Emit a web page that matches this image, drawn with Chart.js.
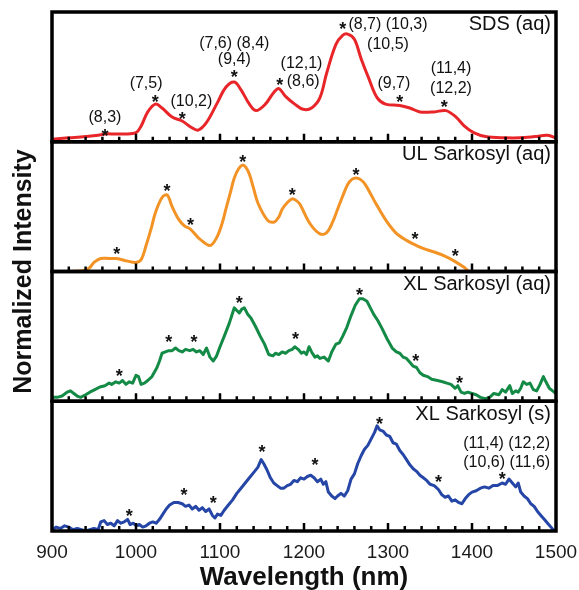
<!DOCTYPE html>
<html>
<head>
<meta charset="utf-8">
<script src="https://cdn.jsdelivr.net/npm/chart.js@4/dist/chart.umd.min.js"></script>
<style>
  html, body { margin: 0; padding: 0; background: #fff; }
  #wrap { width: 579px; height: 590px; }
</style>
</head>
<body>
<div id="wrap"><canvas id="chart"></canvas></div>
<script>
'use strict';

// --- DATA (wavelength in nm, intensity normalized to panel height) ---
const sdsWl = [900,920,940,955,963,975,986,1000,1006,1014,1023,1031,1043,1055,1066,1074,1084,1096,1107,1117,1125,1135,1143,1154,1164,1170,1178,1189,1199,1209,1219,1227,1238,1246,1252,1260,1268,1277,1287,1297,1314,1326,1338,1355,1369,1381,1391,1402,1416,1440,1457,1475,1490,1500];
const sdsVal = [0.02,0.03,0.04,0.05,0.06,0.06,0.06,0.07,0.12,0.23,0.29,0.26,0.19,0.16,0.11,0.09,0.15,0.29,0.42,0.46,0.40,0.29,0.24,0.29,0.38,0.41,0.35,0.29,0.25,0.26,0.34,0.53,0.75,0.82,0.83,0.79,0.64,0.49,0.34,0.29,0.28,0.26,0.23,0.23,0.24,0.19,0.12,0.07,0.04,0.03,0.03,0.04,0.05,0.03];

const ulWl = [900,920,940,945,950,958,968,977,990,1000,1006,1012,1018,1023,1031,1037,1043,1051,1058,1064,1070,1076,1088,1096,1102,1107,1112,1117,1122,1127,1131,1135,1140,1145,1156,1164,1170,1174,1180,1186,1190,1195,1207,1219,1227,1234,1240,1246,1252,1257,1262,1267,1273,1285,1297,1309,1322,1334,1345,1355,1367,1379,1391,1397,1420,1450,1480,1500];
const ulVal = [0,0,0.01,0.03,0.07,0.10,0.10,0.10,0.08,0.07,0.09,0.20,0.33,0.45,0.57,0.59,0.50,0.40,0.35,0.33,0.29,0.25,0.20,0.26,0.36,0.48,0.60,0.72,0.79,0.82,0.80,0.75,0.64,0.53,0.40,0.38,0.42,0.48,0.53,0.56,0.55,0.52,0.37,0.29,0.30,0.38,0.48,0.58,0.67,0.71,0.72,0.71,0.67,0.53,0.40,0.30,0.24,0.20,0.17,0.15,0.12,0.08,0.03,0,0,0,0,0];

const xlAqWl = [900,906,912,918,922,926,930,934,940,945,951,957,963,968,971,976,980,984,988,992,996,1000,1003,1006,1010,1014,1019,1025,1028,1031,1035,1039,1043,1047,1051,1055,1059,1064,1068,1072,1076,1080,1084,1088,1092,1096,1100,1105,1111,1115,1117,1120,1123,1126,1129,1133,1137,1142,1148,1153,1158,1163,1166,1170,1174,1178,1182,1186,1189,1193,1197,1200,1203,1206,1209,1213,1216,1219,1224,1229,1233,1238,1242,1246,1251,1256,1261,1266,1270,1275,1279,1283,1288,1293,1299,1305,1310,1314,1318,1322,1326,1330,1334,1338,1342,1347,1352,1359,1365,1370,1375,1380,1383,1387,1391,1395,1400,1405,1410,1416,1421,1426,1432,1436,1440,1445,1448,1452,1455,1458,1461,1465,1469,1473,1477,1481,1485,1488,1492,1496,1500];
const xlAqVal = [0.03,0.03,0.04,0.07,0.08,0.06,0.04,0.03,0.05,0.07,0.09,0.11,0.12,0.14,0.13,0.15,0.14,0.16,0.13,0.15,0.14,0.20,0.19,0.13,0.14,0.16,0.19,0.26,0.31,0.37,0.38,0.39,0.39,0.41,0.39,0.38,0.40,0.39,0.40,0.38,0.39,0.36,0.41,0.34,0.31,0.35,0.42,0.50,0.60,0.68,0.72,0.70,0.68,0.71,0.72,0.67,0.64,0.58,0.50,0.44,0.36,0.35,0.37,0.36,0.38,0.37,0.39,0.40,0.42,0.40,0.37,0.38,0.36,0.42,0.38,0.34,0.35,0.33,0.34,0.31,0.38,0.44,0.45,0.50,0.57,0.66,0.74,0.79,0.79,0.77,0.72,0.67,0.62,0.56,0.48,0.41,0.38,0.37,0.34,0.33,0.30,0.27,0.26,0.22,0.20,0.19,0.17,0.16,0.15,0.14,0.13,0.10,0.12,0.07,0.06,0.07,0.06,0.05,0.03,0.02,0.03,0.06,0.05,0.09,0.07,0.12,0.06,0.08,0.07,0.10,0.15,0.13,0.14,0.09,0.08,0.13,0.19,0.15,0.10,0.08,0.06];

const xlSWl = [900,905,910,915,920,925,930,935,940,945,950,955,958,962,966,970,974,978,982,986,990,993,997,1000,1004,1008,1012,1016,1020,1024,1028,1032,1036,1040,1045,1050,1055,1059,1063,1067,1071,1075,1079,1083,1087,1091,1094,1097,1101,1105,1110,1115,1120,1125,1130,1135,1140,1145,1149,1152,1156,1160,1164,1168,1172,1176,1180,1184,1188,1192,1196,1200,1204,1208,1212,1216,1220,1223,1226,1229,1233,1237,1240,1244,1248,1252,1256,1260,1264,1268,1272,1276,1280,1284,1287,1290,1294,1298,1302,1306,1310,1314,1318,1322,1326,1330,1334,1338,1342,1346,1350,1355,1360,1364,1368,1372,1376,1380,1384,1388,1392,1396,1400,1405,1410,1415,1420,1425,1430,1436,1440,1444,1448,1452,1455,1458,1462,1466,1470,1474,1478,1482,1486,1490,1494,1498,1500];
const xlSVal = [0.01,0.03,0.02,0.04,0.03,0.01,0.02,0.01,0.00,0.01,0.02,0.01,0.07,0.08,0.05,0.06,0.04,0.08,0.06,0.07,0.09,0.05,0.06,0.04,0.05,0.03,0.04,0.06,0.07,0.06,0.09,0.13,0.17,0.20,0.22,0.22,0.21,0.19,0.20,0.17,0.19,0.16,0.18,0.15,0.17,0.12,0.10,0.13,0.12,0.16,0.20,0.24,0.29,0.33,0.37,0.41,0.45,0.49,0.55,0.52,0.47,0.41,0.37,0.35,0.33,0.33,0.35,0.36,0.39,0.38,0.41,0.40,0.42,0.43,0.41,0.38,0.40,0.36,0.38,0.30,0.27,0.25,0.27,0.29,0.27,0.31,0.40,0.44,0.52,0.58,0.63,0.66,0.71,0.76,0.81,0.78,0.77,0.74,0.73,0.68,0.67,0.62,0.59,0.55,0.51,0.48,0.46,0.43,0.41,0.39,0.36,0.35,0.32,0.28,0.26,0.27,0.23,0.24,0.22,0.21,0.25,0.28,0.30,0.31,0.33,0.34,0.33,0.35,0.35,0.37,0.36,0.40,0.37,0.34,0.37,0.30,0.27,0.25,0.21,0.19,0.15,0.12,0.09,0.06,0.03,0.00,0.00];

const panelNames = ['SDS (aq)', 'UL Sarkosyl (aq)', 'XL Sarkosyl (aq)', 'XL Sarkosyl (s)'];
const lineColors = ['#e8262a', '#f39325', '#138a45', '#2546a6'];
const xTicks = [900, 1000, 1100, 1200, 1300, 1400, 1500];

// star positions [wavelength, height] per panel
const stars = [
  [[963,0.07],[1023,0.33],[1055,0.20],[1117,0.52],[1171,0.46],[1246,0.89],[1314,0.33],[1367,0.29]],
  [[977,0.16],[1037,0.64],[1065,0.38],[1127,0.87],[1186,0.61],[1262,0.77],[1332,0.27],[1380,0.14]],
  [[980,0.22],[1039,0.48],[1069,0.48],[1123,0.78],[1190,0.50],[1266,0.84],[1333,0.33],[1385,0.16]],
  [[992,0.14],[1057,0.30],[1092,0.24],[1150,0.63],[1213,0.53],[1290,0.85],[1360,0.40],[1436,0.42]]
];

// chirality labels [text, wavelength, height, align] per panel
const chirality = [
  [['(8,3)',963,0.19,'center'],['(7,5)',1012,0.45,'center'],['(10,2)',1066,0.31,'center'],
   ['(7,6) (8,4)',1117,0.76,'center'],['(9,4)',1117,0.63,'center'],['(12,1)',1197,0.60,'center'],
   ['(8,6)',1199,0.46,'center'],['(8,7) (10,3)',1300,0.90,'center'],['(10,5)',1300,0.75,'center'],
   ['(9,7)',1307,0.45,'center'],['(11,4)',1375,0.56,'center'],['(12,2)',1375,0.41,'center']],
  [],
  [],
  [['(11,4) (12,2)',1493,0.67,'right'],['(10,6) (11,6)',1493,0.53,'right']]
];

const FONT = "'Liberation Sans', Arial, Helvetica, sans-serif";

function toPoints(wl, val) {
    return wl.map((w, i) => ({ x: w, y: val[i] }));
}

const seriesWl = [sdsWl, ulWl, xlAqWl, xlSWl];
const seriesVal = [sdsVal, ulVal, xlAqVal, xlSVal];
const panelIds = ['y1', 'y2', 'y3', 'y4'];

const datasets = panelIds.map((id, i) => ({
    label: panelNames[i],
    data: toPoints(seriesWl[i], seriesVal[i]),
    yAxisID: id,
    borderColor: lineColors[i],
    borderWidth: 3,
    pointRadius: 0,
    tension: i < 2 ? 0.35 : 0,
    borderJoinStyle: 'round',
    fill: false
}));

const scales = {
    x: {
        type: 'linear', min: 900, max: 1500,
        afterBuildTicks: axis => { axis.ticks = xTicks.map(v => ({ value: v })); },
        afterFit: axis => {
            // fixed axis block height, no extra side padding for edge labels
            axis.height = 59;
            axis.paddingLeft = 0;
            axis.paddingRight = 0;
        },
        ticks: { font: { family: FONT, size: 19 }, color: '#1a1a1a', padding: 10, maxRotation: 0,
                 callback: v => String(v) },
        grid: { display: false, drawTicks: false },
        border: { display: false },
        title: { display: true, text: 'Wavelength (nm)', color: '#111',
                 font: { family: FONT, size: 26, weight: 'bold' }, padding: { top: 0, bottom: -3 } }
    }
};
panelIds.forEach((id, i) => {
    scales[id] = {
        type: 'linear', position: 'left', stack: 'panels', stackWeight: 1,
        weight: 4 - i, min: 0, max: 1,
        ticks: { display: false },
        grid: { display: false, drawTicks: false },
        border: { display: false }
    };
});

// frames, inward ticks, stars and labels
const panelDecor = {
    id: 'panelDecor',
    afterDatasetsDraw(chart) {
        const ctx = chart.ctx;
        const area = chart.chartArea;
        const xs = chart.scales.x;
        ctx.save();
        panelIds.forEach((id, i) => {
            const ys = chart.scales[id];
            ctx.strokeStyle = '#000';
            ctx.lineWidth = 2.5;
            for (let w = 920; w < 1500; w += 20) {
                const px = xs.getPixelForValue(w);
                const len = w % 100 === 0 ? 8 : 5;
                ctx.beginPath();
                ctx.moveTo(px, ys.bottom);
                ctx.lineTo(px, ys.bottom - len);
                ctx.stroke();
            }
            ctx.lineWidth = 3.5;
            ctx.strokeRect(area.left, ys.top, area.right - area.left, ys.bottom - ys.top);

            ctx.fillStyle = '#111';
            ctx.textBaseline = 'middle';
            ctx.textAlign = 'center';
            ctx.font = 'bold 18px ' + FONT;
            stars[i].forEach(([w, h]) => {
                ctx.fillText('*', xs.getPixelForValue(w), ys.getPixelForValue(h) + 4);
            });

            ctx.font = '16px ' + FONT;
            chirality[i].forEach(([t, w, h, al]) => {
                ctx.textAlign = al;
                ctx.fillText(t, xs.getPixelForValue(w), ys.getPixelForValue(h));
            });

            ctx.font = '20px ' + FONT;
            ctx.textAlign = 'right';
            ctx.fillText(panelNames[i], xs.getPixelForValue(1494), ys.getPixelForValue(0.9));
        });

        ctx.translate(24, (area.top + area.bottom) / 2);
        ctx.rotate(-Math.PI / 2);
        ctx.textAlign = 'center';
        ctx.textBaseline = 'middle';
        ctx.font = 'bold 25px ' + FONT;
        ctx.fillStyle = '#111';
        ctx.fillText('Normalized Intensity', 0, 0);
        ctx.restore();
    }
};

new Chart(document.getElementById('chart'), {
    type: 'line',
    data: { datasets },
    options: {
        responsive: true,
        maintainAspectRatio: false,
        animation: false,
        layout: { padding: { left: 52, right: 23, top: 12, bottom: 0 } },
        plugins: { legend: { display: false }, tooltip: { enabled: false } },
        scales
    },
    plugins: [panelDecor]
});
</script>
</body>
</html>
